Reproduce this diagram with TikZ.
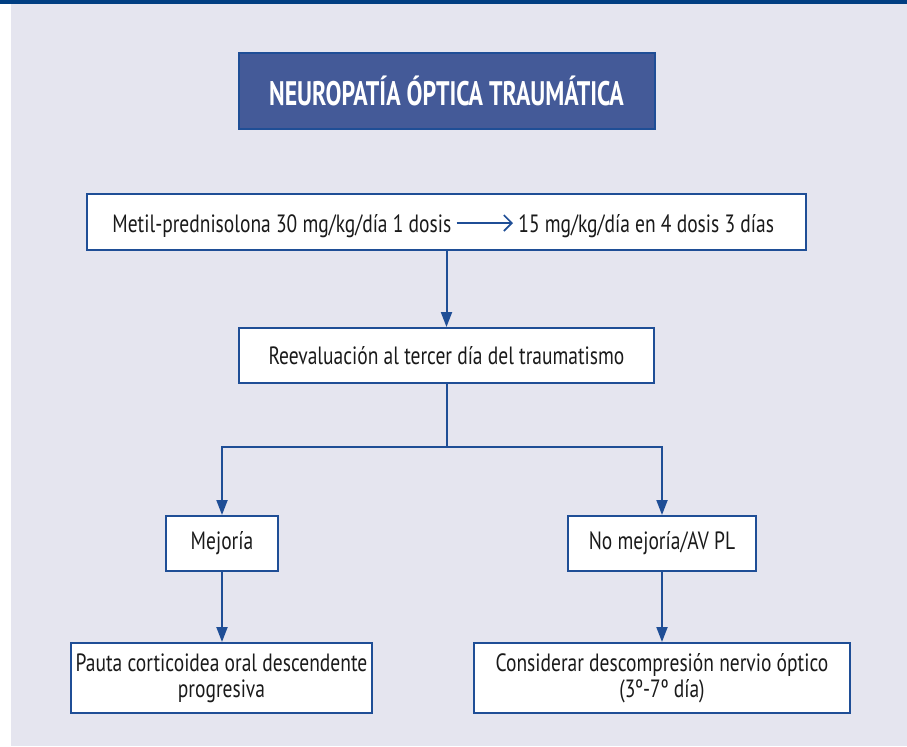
\documentclass[tikz,border=0pt]{standalone}
\usepackage{fontspec}
\setmainfont{PT Sans}[FakeStretch=0.78]
\newfontfamily\titlefont{PT Sans}[FakeStretch=0.70]
\usetikzlibrary{arrows.meta}
\definecolor{navy}{HTML}{003E82}
\definecolor{lav}{HTML}{E5E5EF}
\definecolor{boxline}{HTML}{1F4E96}
\definecolor{titlefill}{HTML}{445A98}
\definecolor{ink}{HTML}{1A1A1A}

\begin{document}
\begin{tikzpicture}[x=0.5pt, y=-0.5pt,
    every node/.style={font=\fontsize{12.5}{13}\selectfont, text=ink},
    box/.style={draw=boxline, line width=1pt, fill=white, inner sep=0pt},
    link/.style={draw=boxline, line width=1pt, -{Triangle[width=5.5pt,length=7.5pt]}}]
  \useasboundingbox (0,0) rectangle (907,746);
  % background
  \fill[white] (0,0) rectangle (907,746);
  \fill[lav] (11,0) rectangle (907,746);
  \fill[navy] (0,0) rectangle (907,4);
  % title
  \node[box, fill=titlefill, minimum width=208pt, minimum height=38pt,
    font=\titlefont\bfseries\fontsize{17}{19}\selectfont, text=white]
    (title) at (446.5,91) {NEUROPATÍA ÓPTICA TRAUMÁTICA};
  % first step
  \node[box, minimum width=359.5pt, minimum height=28pt] (dose) at (446.5,222) {};
  \node[anchor=base west, inner sep=0pt] (metil) at (112,232)
    {Metil-prednisolona 30 mg/kg/día 1 dosis};
  \node[anchor=base west, inner sep=0pt] (quince) at (518,232)
    {15 mg/kg/día en 4 dosis 3 días};
  \draw[boxline, line width=0.8pt, shorten <=2.5pt, shorten >=2.5pt,
    -{Straight Barb[length=4pt, width=8pt]}]
    ([yshift=4.5pt]metil.base east) -- ([yshift=4.5pt]quince.base west);
  % reevaluation
  \node[box, minimum width=207.5pt, minimum height=27.5pt] (reev) at (446.5,355.5)
    {Reevaluación al tercer día del traumatismo};
  \coordinate (split) at (446.5,447);
  % outcomes
  \node[box, minimum width=56pt, minimum height=27.5pt] (mej) at (222,543.5) {Mejoría};
  \node[box, minimum width=94pt, minimum height=27.5pt] (nomej) at (662,543.5)
    {No mejoría/AV PL};
  \node[box, minimum width=150.5pt, minimum height=35pt, align=center] (pauta)
    at (221.5,678) {Pauta corticoidea oral descendente\\progresiva};
  \node[box, minimum width=188pt, minimum height=35pt, align=center] (cons)
    at (662,678) {Considerar descompresión nervio óptico\\(3º-7º día)};
  % connectors
  \draw[link] (dose) -- (reev);
  \draw[boxline, line width=1pt] (reev) -- (split);
  \draw[link] (split) -| (mej);
  \draw[link] (split) -| (nomej);
  \draw[link] (mej) -- (mej |- pauta.north);
  \draw[link] (nomej) -- (nomej |- cons.north);
\end{tikzpicture}
\end{document}
